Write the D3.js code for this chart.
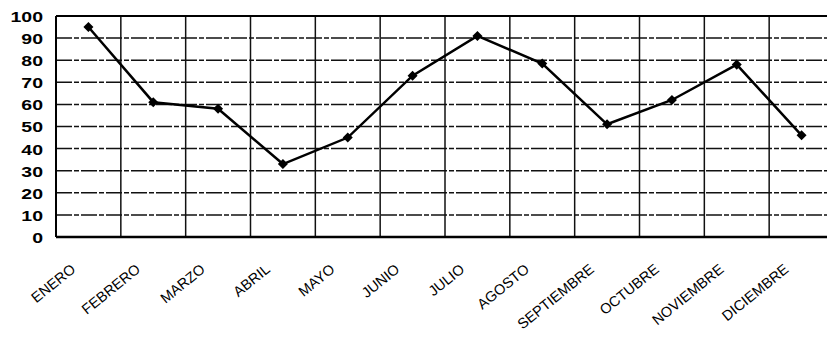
<!DOCTYPE html>
<html><head><meta charset="utf-8">
<script src="https://cdn.jsdelivr.net/npm/d3@7"></script>
<style>body{margin:0;background:#fff}svg{display:block}</style>
</head><body>
<svg id="c" width="827" height="337"></svg>
<script>
const months = ["ENERO","FEBRERO","MARZO","ABRIL","MAYO","JUNIO","JULIO","AGOSTO","SEPTIEMBRE","OCTUBRE","NOVIEMBRE","DICIEMBRE"];
const values = [95, 61, 58, 33, 45, 73, 91, 78.5, 51, 62, 78, 46];
const yTicks = [0,10,20,30,40,50,60,70,80,90,100];

const svg = d3.select("#c");
const L = 56, R = 834, T = 16, B = 237;
const x = d3.scaleBand().domain(months).range([L, R]);
const y = d3.scaleLinear().domain([0,100]).range([B, T]);

// horizontal grid (dashed)
svg.append("g").selectAll("line").data(yTicks.filter(d => d>0 && d<100)).join("line")
  .attr("x1", L).attr("x2", R).attr("y1", d => y(d)).attr("y2", d => y(d))
  .attr("stroke", "#111").attr("stroke-width", 1.5).attr("stroke-dasharray", "16,2,5,2");

// vertical grid at band boundaries
svg.append("g").selectAll("line").data(months.slice(1)).join("line")
  .attr("x1", d => x(d)).attr("x2", d => x(d)).attr("y1", T).attr("y2", B)
  .attr("stroke", "#111").attr("stroke-width", 1.5);

// frame
svg.append("line").attr("x1", L).attr("x2", R).attr("y1", T).attr("y2", T).attr("stroke","#000").attr("stroke-width",2);
svg.append("line").attr("x1", L).attr("x2", R).attr("y1", B).attr("y2", B).attr("stroke","#000").attr("stroke-width",2.5);
svg.append("line").attr("x1", L).attr("x2", L).attr("y1", T).attr("y2", B).attr("stroke","#000").attr("stroke-width",2);

// y axis labels
const yAxis = d3.axisLeft(y).tickValues(yTicks).tickSize(0).tickPadding(0);
const gy = svg.append("g").attr("transform", `translate(${L-13},0)`).call(yAxis);
gy.select(".domain").remove();
gy.selectAll("text").attr("font-family","Liberation Sans, Arial, sans-serif")
  .attr("font-size", 15).attr("font-weight","bold").attr("fill","#000")
  .attr("x", 0).attr("dy","0.36em")
  .attr("transform","scale(1.3,1)");

// x axis labels
const xAxis = d3.axisBottom(x).tickSize(0).tickPadding(0);
const gx = svg.append("g").attr("transform", `translate(0,${B})`).call(xAxis);
gx.select(".domain").remove();
gx.selectAll("text").attr("font-family","Liberation Sans, Arial, sans-serif")
  .attr("font-size", 14.5).attr("fill","#000")
  .attr("text-anchor","end").attr("dy", 0).attr("y", 0)
  .attr("transform","translate(-12,34) rotate(-39)");

// line
const line = d3.line().x((d,i) => x(months[i]) + x.bandwidth()/2).y(d => y(d));
svg.append("path").datum(values).attr("d", line).attr("fill","none")
  .attr("stroke","#000").attr("stroke-width",2.5);

svg.append("g").selectAll("path").data(values).join("path")
  .attr("d", d3.symbol().type(d3.symbolDiamond2).size(64))
  .attr("transform", (d,i) => `translate(${x(months[i]) + x.bandwidth()/2},${y(d)})`)
  .attr("fill","#000");
</script>
</body></html>
